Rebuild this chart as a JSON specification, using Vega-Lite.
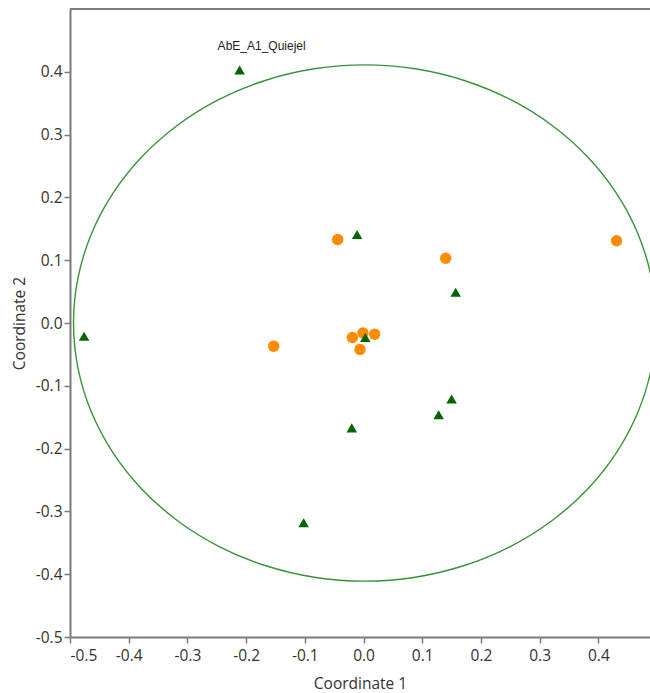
{
  "$schema": "https://vega.github.io/schema/vega-lite/v6.json",
  "width": 580,
  "height": 628,
  "autosize": "none",
  "padding": {"left": 70, "top": 9, "right": 0, "bottom": 56},
  "config": {
    "view": {"stroke": null},
    "axis": {
      "grid": false,
      "domainColor": "#7a7a7a",
      "domainWidth": 2,
      "tickColor": "#7a7a7a",
      "tickWidth": 1.5,
      "tickSize": 6,
      "labelFont": "Open Sans",
      "labelFontSize": 15.5,
      "labelColor": "#333333",
      "titleFont": "Open Sans",
      "titleFontSize": 15.5,
      "titleFontWeight": "normal",
      "titleColor": "#333333"
    }
  },
  "layer": [
    {
      "data": {"values": [{"y": 0.5}]},
      "mark": {"type": "rule", "stroke": "#7a7a7a", "strokeWidth": 2},
      "encoding": {
        "y": {"field": "y", "type": "quantitative", "scale": {"domain": [-0.5, 0.5], "nice": false, "zero": false}}
      }
    },
    {
      "data": {"values": [
        {"i": 0, "x": 0.498, "y": 0},
        {"i": 1, "x": 0.4905, "y": 0.0714},
        {"i": 2, "x": 0.4681, "y": 0.1406},
        {"i": 3, "x": 0.4315, "y": 0.2055},
        {"i": 4, "x": 0.3819, "y": 0.2642},
        {"i": 5, "x": 0.3208, "y": 0.3148},
        {"i": 6, "x": 0.25, "y": 0.3559},
        {"i": 7, "x": 0.1716, "y": 0.3862},
        {"i": 8, "x": 0.0881, "y": 0.4048},
        {"i": 9, "x": 0.002, "y": 0.411},
        {"i": 10, "x": -0.0841, "y": 0.4048},
        {"i": 11, "x": -0.1676, "y": 0.3862},
        {"i": 12, "x": -0.246, "y": 0.3559},
        {"i": 13, "x": -0.3168, "y": 0.3148},
        {"i": 14, "x": -0.3779, "y": 0.2642},
        {"i": 15, "x": -0.4275, "y": 0.2055},
        {"i": 16, "x": -0.4641, "y": 0.1406},
        {"i": 17, "x": -0.4865, "y": 0.0714},
        {"i": 18, "x": -0.494, "y": 0},
        {"i": 19, "x": -0.4865, "y": -0.0714},
        {"i": 20, "x": -0.4641, "y": -0.1406},
        {"i": 21, "x": -0.4275, "y": -0.2055},
        {"i": 22, "x": -0.3779, "y": -0.2642},
        {"i": 23, "x": -0.3168, "y": -0.3148},
        {"i": 24, "x": -0.246, "y": -0.3559},
        {"i": 25, "x": -0.1676, "y": -0.3862},
        {"i": 26, "x": -0.0841, "y": -0.4048},
        {"i": 27, "x": 0.002, "y": -0.411},
        {"i": 28, "x": 0.0881, "y": -0.4048},
        {"i": 29, "x": 0.1716, "y": -0.3862},
        {"i": 30, "x": 0.25, "y": -0.3559},
        {"i": 31, "x": 0.3208, "y": -0.3148},
        {"i": 32, "x": 0.3819, "y": -0.2642},
        {"i": 33, "x": 0.4315, "y": -0.2055},
        {"i": 34, "x": 0.4681, "y": -0.1406},
        {"i": 35, "x": 0.4905, "y": -0.0714},
        {"i": 36, "x": 0.498, "y": 0}
      ]},
      "mark": {"type": "line", "stroke": "#3a923a", "strokeWidth": 1.4, "clip": true, "interpolate": "catmull-rom"},
      "encoding": {
        "x": {"field": "x", "type": "quantitative"},
        "y": {"field": "y", "type": "quantitative"},
        "order": {"field": "i", "type": "quantitative"}
      }
    },
    {
      "data": {"values": [
        {"x": -0.044, "y": 0.133, "group": "circle"},
        {"x": 0.140, "y": 0.103, "group": "circle"},
        {"x": 0.431, "y": 0.131, "group": "circle"},
        {"x": -0.153, "y": -0.037, "group": "circle"},
        {"x": -0.019, "y": -0.023, "group": "circle"},
        {"x": -0.001, "y": -0.016, "group": "circle"},
        {"x": 0.019, "y": -0.018, "group": "circle"},
        {"x": -0.006, "y": -0.042, "group": "circle"},
        {"x": -0.211, "y": 0.403, "group": "triangle"},
        {"x": -0.011, "y": 0.141, "group": "triangle"},
        {"x": 0.157, "y": 0.049, "group": "triangle"},
        {"x": -0.476, "y": -0.021, "group": "triangle"},
        {"x": 0.003, "y": -0.023, "group": "triangle"},
        {"x": 0.150, "y": -0.121, "group": "triangle"},
        {"x": 0.128, "y": -0.146, "group": "triangle"},
        {"x": -0.020, "y": -0.167, "group": "triangle"},
        {"x": -0.102, "y": -0.318, "group": "triangle"}
      ]},
      "mark": {"type": "point", "filled": true, "opacity": 1, "clip": true},
      "encoding": {
        "x": {
          "field": "x", "type": "quantitative", "title": "Coordinate 1",
          "scale": {"domain": [-0.5, 0.488], "nice": false, "zero": false},
          "axis": {"values": [-0.5, -0.4, -0.3, -0.2, -0.1, 0, 0.1, 0.2, 0.3, 0.4],
            "labelExpr": "replace(format(datum.value, '.1f'), '\u2212', '-')",
            "labelPadding": 5, "titlePadding": 13}
        },
        "y": {
          "field": "y", "type": "quantitative", "title": "Coordinate 2",
          "scale": {"domain": [-0.5, 0.5], "nice": false, "zero": false},
          "axis": {"values": [-0.5, -0.4, -0.3, -0.2, -0.1, 0, 0.1, 0.2, 0.3, 0.4],
            "labelExpr": "replace(format(datum.value, '.1f'), '\u2212', '-')",
            "labelPadding": 2, "titlePadding": 8}
        },
        "shape": {"field": "group", "type": "nominal", "legend": null,
          "scale": {"domain": ["circle", "triangle"], "range": ["circle", "triangle-up"]}},
        "color": {"field": "group", "type": "nominal", "legend": null,
          "scale": {"domain": ["circle", "triangle"], "range": ["#ff8c00", "#006400"]}},
        "size": {"field": "group", "type": "nominal", "legend": null,
          "scale": {"domain": ["circle", "triangle"], "range": [130, 110]}}
      }
    },
    {
      "data": {"values": [{"x": -0.211, "y": 0.403, "label": "AbE_A1_Quiejel"}]},
      "mark": {"type": "text", "font": "Liberation Sans", "fontSize": 12, "color": "#222222", "dy": -24, "dx": 22},
      "encoding": {
        "x": {"field": "x", "type": "quantitative"},
        "y": {"field": "y", "type": "quantitative"},
        "text": {"field": "label"}
      }
    }
  ]
}
